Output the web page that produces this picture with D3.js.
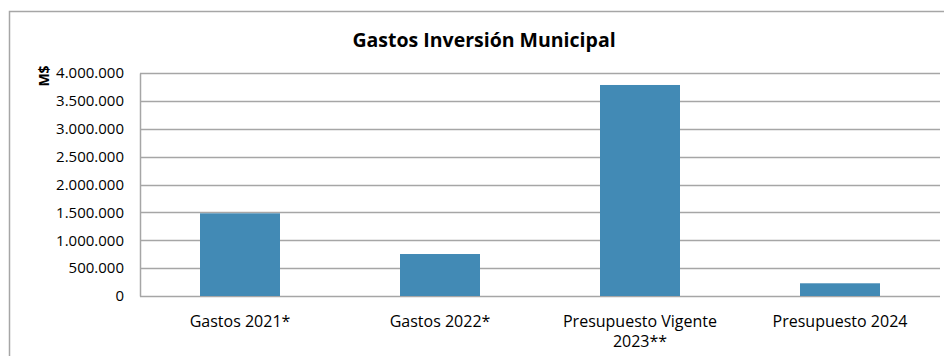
<!DOCTYPE html>
<html>
<head>
<meta charset="utf-8">
<script src="https://cdn.jsdelivr.net/npm/d3@7"></script>
<style>
  html, body { margin: 0; background: #fff; overflow: hidden; }
  svg { display: block; }
  text { font-family: "Open Sans", sans-serif; fill: #000; }
</style>
</head>
<body>
<script>
// chart data
var categories = ["Gastos 2021*", "Gastos 2022*", "Presupuesto Vigente 2023**", "Presupuesto 2024"];
var values = [1483000, 753000, 3785000, 228000];
var yTicks = [0, 500000, 1000000, 1500000, 2000000, 2500000, 3000000, 3500000, 4000000];

var W = 944, H = 356;
var margin = {top: 73, right: 4, bottom: 60, left: 140},
    width = W - margin.left - margin.right,
    height = H - margin.top - margin.bottom;

var svg = d3.select("body").append("svg")
    .attr("width", W)
    .attr("height", H);

// white background
svg.append("rect")
    .attr("width", W)
    .attr("height", H)
    .attr("fill", "#fff");

// outer frame (runs off right / bottom edge)
svg.append("path")
    .attr("d", "M9.5," + H + "V11.5H" + W)
    .attr("fill", "none")
    .attr("stroke", "#a6a6a6")
    .attr("stroke-width", 1.5);

// title
svg.append("text")
    .attr("x", 484)
    .attr("y", 47)
    .attr("text-anchor", "middle")
    .style("font-size", "19.5px")
    .style("font-weight", "bold")
    .text("Gastos Inversión Municipal");

var g = svg.append("g")
    .attr("transform", "translate(" + margin.left + "," + margin.top + ")");

var x = d3.scaleBand()
    .domain(categories)
    .range([0, width])
    .paddingInner(0.6)
    .paddingOuter(0.3);

var y = d3.scaleLinear()
    .domain([0, 4000000])
    .range([height, 0]);

var fmt = function(d) { return d3.format(",")(d).replace(/,/g, "."); };

// gridlines
g.selectAll(".grid")
    .data(yTicks)
  .enter().append("line")
    .attr("class", "grid")
    .attr("x1", 0)
    .attr("x2", width)
    .attr("y1", function(d) { return Math.round(y(d)) + 0.5; })
    .attr("y2", function(d) { return Math.round(y(d)) + 0.5; })
    .attr("stroke", "#a6a6a6")
    .attr("stroke-width", 1.5);

// y axis
var yAxis = g.append("g")
    .call(d3.axisLeft(y).tickValues(yTicks).tickFormat(fmt).tickSize(0).tickSizeOuter(0).tickPadding(16));
yAxis.select(".domain").attr("stroke", "#a6a6a6").attr("stroke-width", 1.5);
yAxis.selectAll("text")
    .style("font-size", "15px")
    .style("font-family", "'Open Sans', sans-serif")
    .attr("fill", "#000");

// bars
g.selectAll(".bar")
    .data(values)
  .enter().append("rect")
    .attr("class", "bar")
    .attr("x", function(d, i) { return x(categories[i]); })
    .attr("width", x.bandwidth())
    .attr("y", function(d) { return y(d); })
    .attr("height", function(d) { return height - y(d); })
    .attr("fill", "#428ab5");

// x labels, wrapped like the original
var labelLines = [["Gastos 2021*"], ["Gastos 2022*"], ["Presupuesto Vigente", "2023**"], ["Presupuesto 2024"]];
g.selectAll(".xlab")
    .data(categories)
  .enter().append("text")
    .attr("class", "xlab")
    .attr("text-anchor", "middle")
    .attr("transform", function(d) { return "translate(" + (x(d) + x.bandwidth() / 2) + "," + (height + 31) + ")"; })
    .style("font-size", "16px")
    .each(function(d, i) {
      var t = d3.select(this);
      labelLines[i].forEach(function(line, j) {
        t.append("tspan").attr("x", 0).attr("dy", j ? 20 : 0).text(line);
      });
    });

// y axis title
svg.append("text")
    .attr("transform", "translate(49,76) rotate(-90)")
    .attr("text-anchor", "middle")
    .style("font-size", "14px")
    .style("font-weight", "bold")
    .text("M$");
</script>
</body>
</html>
